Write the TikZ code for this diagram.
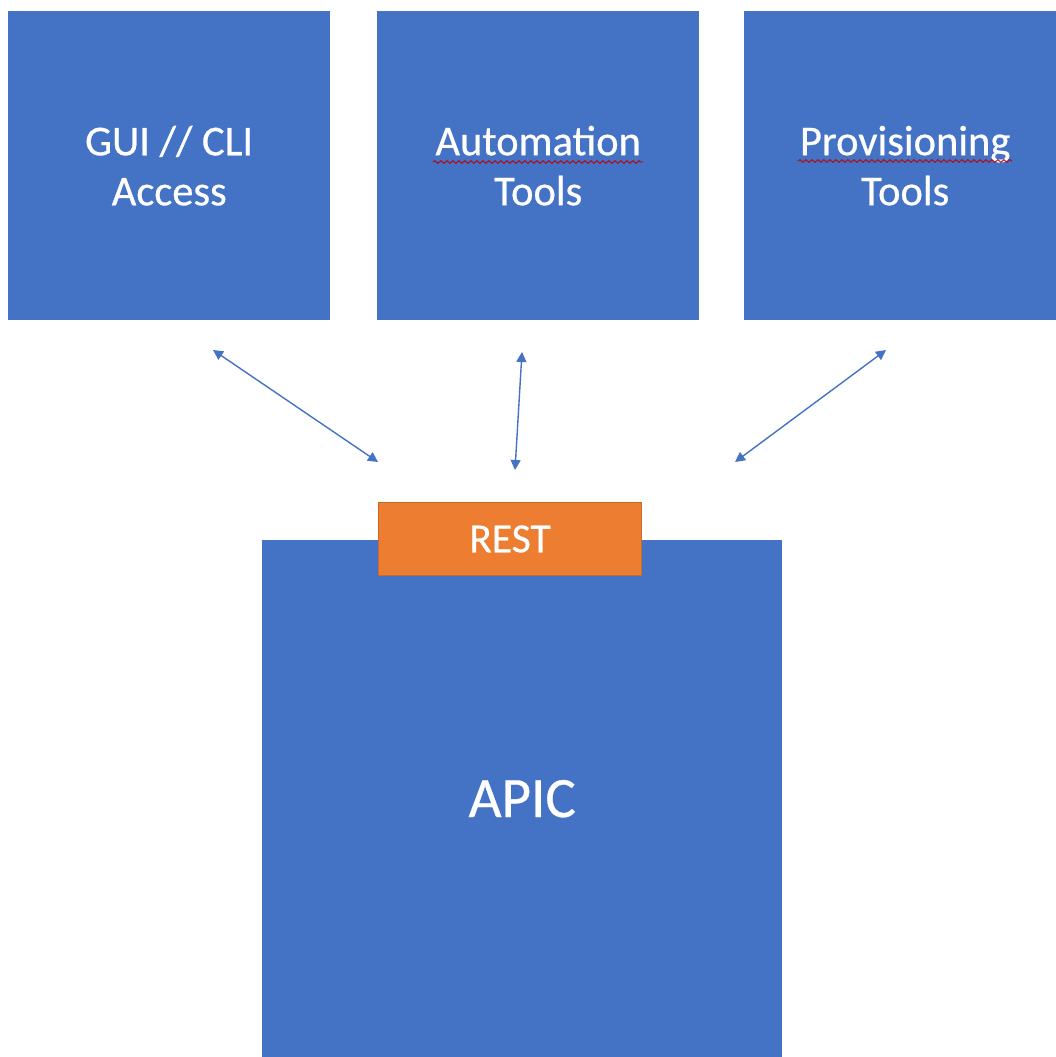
\documentclass[tikz,border=0pt]{standalone}
\usepackage{fontspec}
\setmainfont{Carlito}
\newfontfamily\thickfont[FakeBold=0.6]{Carlito}
\usetikzlibrary{arrows.meta,decorations.pathmorphing}
\definecolor{offblue}{HTML}{4472C4}
\definecolor{offorange}{HTML}{ED7D31}
\begin{document}
\begin{tikzpicture}[x=1pt,y=-1pt,
        blk/.style={fill=offblue, draw=none, inner sep=0pt, text=white, align=center,
            anchor=north west, font=\thickfont\fontsize{42.5}{50}\selectfont},
        link/.style={draw=offblue, line width=1.4pt, {Triangle[width=10pt,length=10pt]}-{Triangle[width=10pt,length=10pt]}},
        squig/.style={draw=red!75!black, line width=0.9pt, decorate,
            decoration={snake, amplitude=1.3pt, segment length=6pt}}]
        \useasboundingbox (0,0) rectangle (1056,1057);
        \fill[white] (0,0) rectangle (1056,1057);
        % top row
        \node[blk, minimum width=322pt, minimum height=309pt] (gui) at (8,11) {GUI // CLI\\Access};
        \node[blk, minimum width=322pt, minimum height=309pt] (auto) at (377,11) {Automation\\Tools};
        \node[blk, minimum width=322pt, minimum height=309pt] (prov) at (744,11) {Provisioning\\Tools};
        % controller
        \node[blk, minimum width=520pt, minimum height=517pt, font=\thickfont\fontsize{57}{68}\selectfont] (apic) at (262,540) {APIC};
        \node[blk, fill=offorange, draw=offorange!85!black, line width=1pt, minimum width=263pt, minimum height=73pt,
            font=\thickfont\fontsize{41.5}{48}\selectfont] (rest) at (378,502) {REST};
        % spelling marks
        \draw[squig] (433,162)--(643,162);
        \draw[squig] (798,161)--(1012,161);
        % arrows
        \coordinate (g1) at (213,350);
        \coordinate (g2) at (378,462);
        \coordinate (a1) at (522,352);
        \coordinate (a2) at (515,470);
        \coordinate (p1) at (886,350);
        \coordinate (p2) at (735,462);
        \draw[link] (g1)--(g2);
        \draw[link] (a1)--(a2);
        \draw[link] (p1)--(p2);
    \end{tikzpicture}
\end{document}
